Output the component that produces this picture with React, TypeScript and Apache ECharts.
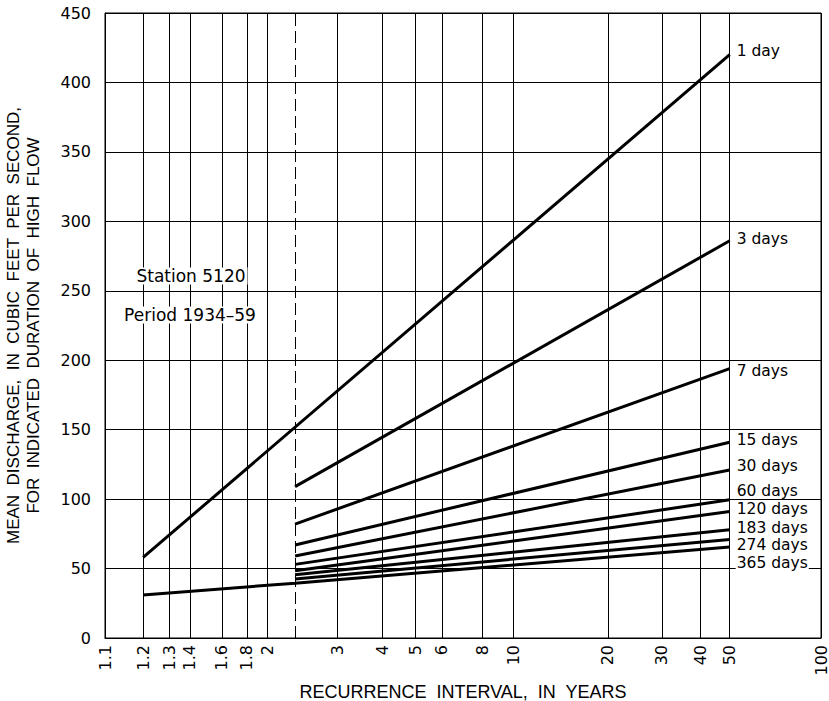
import React, { useEffect, useRef } from "react";
import * as echarts from "echarts";

// Recurrence-interval tick labels (years) on the Gumbel probability scale
const tickYears = [1.1, 1.2, 1.3, 1.4, 1.6, 1.8, 2, 3, 4, 5, 6, 8, 10, 20, 30, 40, 50, 100];
const meanAnnualYears = 2.33;

const durations = ["1 day", "3 days", "7 days", "15 days", "30 days", "60 days", "120 days", "183 days", "274 days", "365 days"];
const seriesYears: number[][] = [
  [1.2, 50],
  [2.33, 50],
  [2.33, 50],
  [2.33, 50],
  [2.33, 50],
  [2.33, 50],
  [2.33, 50],
  [2.33, 50],
  [2.33, 50],
  [1.2, 2.33, 50],
];
const seriesFlow: number[][] = [
  [58, 420],
  [109, 286],
  [82, 194],
  [67, 141],
  [59, 121],
  [53, 99.5],
  [48.5, 91],
  [45.5, 78],
  [42.5, 71],
  [31, 39.5, 65.5],
];

// label nudges (px) for the end-of-line labels
const labelShift = [-4, -2, 2, -2, -4, -9, -3, -2, 6, 16];

const reduced = (T: number) => -Math.log(-Math.log(1 - 1 / T));

const FONT = "DejaVu Sans";

export default function App() {
  const ref = useRef<HTMLDivElement>(null);
  useEffect(() => {
    if (!ref.current) return;
    const chart = echarts.init(ref.current, null, { renderer: "svg" });
    const tickVals = tickYears.map(reduced);
    const fmt = (v: number) => {
      let best = 0;
      let bd = Infinity;
      tickVals.forEach((t, i) => {
        const d = Math.abs(t - v);
        if (d < bd) {
          bd = d;
          best = i;
        }
      });
      return String(tickYears[best]);
    };
    const series: any[] = durations.map((name, i) => ({
      type: "line",
      name,
      data: seriesYears[i].map((T, j) => [reduced(T), seriesFlow[i][j]]),
      showSymbol: false,
      symbol: "none",
      lineStyle: { color: "#000", width: 3 },
      z: 3,
      endLabel: {
        show: true,
        formatter: name,
        color: "#000",
        fontFamily: FONT,
        fontSize: 15.5,
        lineHeight: 15,
        distance: 6,
        offset: [0, labelShift[i]],
        backgroundColor: "#fff",
        padding: [0, 1, 0, 1],
      },
      emphasis: { disabled: true },
    }));
    series.push({
      type: "line",
      data: [],
      markLine: {
        silent: true,
        symbol: ["none", "none"],
        label: { show: false },
        lineStyle: { color: "#000", width: 1, type: [12, 5] },
        data: [{ xAxis: reduced(meanAnnualYears) }],
      },
    });
    chart.setOption({
      animation: false,
      backgroundColor: "#fff",
      grid: {
        left: 105,
        right: 8,
        top: 13,
        bottom: 63,
        show: true,
        borderColor: "#000",
        borderWidth: 1,
        containLabel: false,
        outerBoundsMode: "none",
      },
      xAxis: {
        type: "value",
        min: reduced(1.1),
        max: reduced(100),
        name: "RECURRENCE  INTERVAL,  IN  YEARS",
        nameLocation: "middle",
        nameGap: 42,
        nameTextStyle: { color: "#000", fontFamily: "Liberation Sans", fontSize: 18 },
        axisLine: { show: true, onZero: false, lineStyle: { color: "#000", width: 1 } },
        axisTick: { show: false, customValues: tickVals },
        axisLabel: {
          customValues: tickVals,
          rotate: 90,
          formatter: fmt,
          color: "#000",
          fontFamily: FONT,
          fontSize: 16,
          margin: 7,
          showMinLabel: true,
          showMaxLabel: true,
        },
        splitLine: { show: true, lineStyle: { color: "#000", width: 1 } },
      },
      yAxis: {
        type: "value",
        min: 0,
        max: 450,
        interval: 50,
        name: "MEAN  DISCHARGE,  IN  CUBIC  FEET  PER  SECOND,\nFOR  INDICATED  DURATION  OF  HIGH  FLOW",
        nameLocation: "middle",
        nameGap: 62,
        nameTextStyle: { color: "#000", fontFamily: "Liberation Sans", fontSize: 17, lineHeight: 20 },
        axisLine: { show: true, onZero: false, lineStyle: { color: "#000", width: 1 } },
        axisTick: { show: false },
        axisLabel: { color: "#000", fontFamily: FONT, fontSize: 16, margin: 14 },
        splitLine: { show: true, lineStyle: { color: "#000", width: 1 } },
      },
      graphic: [
        {
          type: "text",
          x: 191,
          y: 276,
          z: 10,
          style: {
            text: "Station 5120",
            fill: "#000",
            font: `17px "${FONT}"`,
            align: "center",
            verticalAlign: "middle",
            backgroundColor: "#fff",
            padding: [0, 2],
          },
        },
        {
          type: "text",
          x: 190,
          y: 315,
          z: 10,
          style: {
            text: "Period 1934–59",
            fill: "#000",
            font: `17px "${FONT}"`,
            align: "center",
            verticalAlign: "middle",
            backgroundColor: "#fff",
            padding: [0, 2],
          },
        },
      ],
      series,
    });
    return () => chart.dispose();
  }, []);
  return (
    <div
      ref={ref}
      style={{ position: "absolute", left: 0, top: 0, width: 829, height: 701 }}
    />
  );
}
